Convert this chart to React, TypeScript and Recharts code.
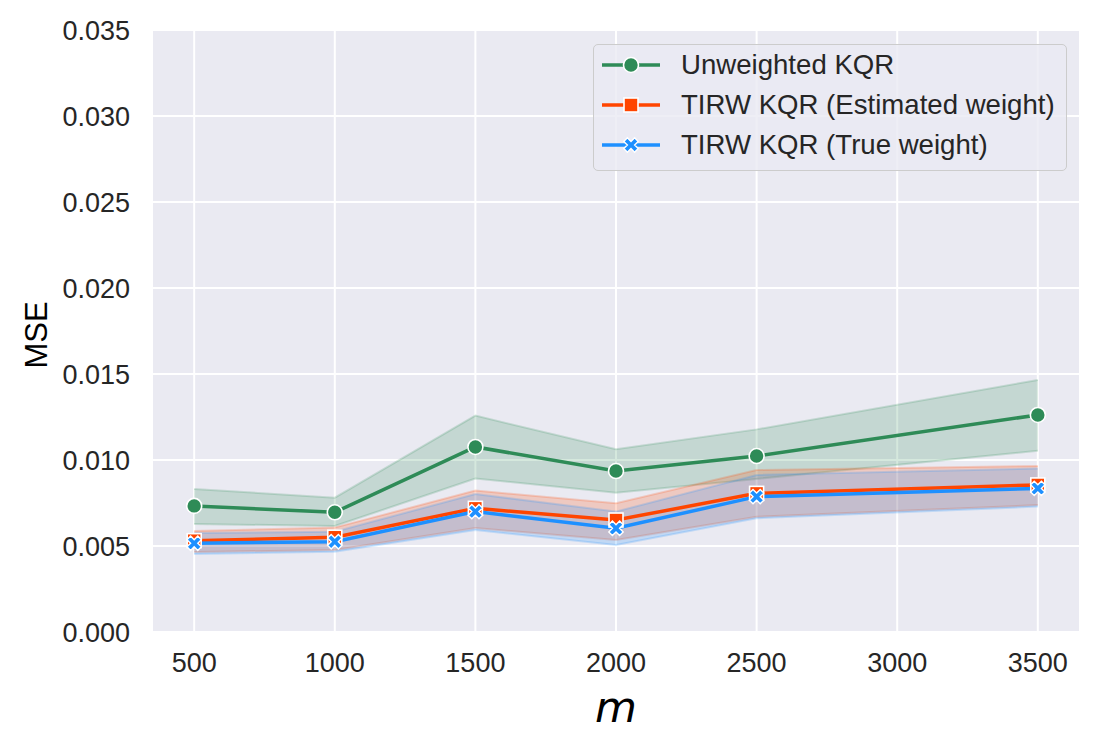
import { CartesianGrid, ComposedChart, Area, Line, Legend, XAxis, YAxis } from "recharts";

const mValues = [500, 1000, 1500, 2000, 2500, 3500];

const unweighted = [0.00733, 0.00696, 0.01076, 0.00936, 0.01023, 0.01262];
const unweightedLo = [0.00628, 0.00616, 0.00892, 0.0081, 0.0089, 0.01054];
const unweightedHi = [0.00831, 0.00781, 0.01258, 0.01062, 0.01178, 0.01465];

const estimated = [0.00531, 0.00551, 0.00719, 0.00651, 0.00806, 0.00855];
const estimatedLo = [0.00465, 0.00477, 0.00605, 0.00535, 0.0067, 0.00738];
const estimatedHi = [0.00587, 0.00607, 0.00822, 0.00748, 0.00942, 0.00965];

const trueWeight = [0.00516, 0.00525, 0.007, 0.00603, 0.00787, 0.00835];
const trueLo = [0.00453, 0.00467, 0.00593, 0.00506, 0.00661, 0.00729];
const trueHi = [0.00575, 0.00583, 0.00802, 0.007, 0.00913, 0.00951];

const xTicks = [500, 1000, 1500, 2000, 2500, 3000, 3500];
const yTicks = [0, 0.005, 0.01, 0.015, 0.02, 0.025, 0.03, 0.035];

const GREEN = "#2E8B57";
const ORANGE = "#FF4500";
const BLUE = "#1E90FF";
const FONT = "'Liberation Sans', Arial, sans-serif";
const TEXT = "#262626";

const data = mValues.map((m, i) => ({
  m,
  unweighted: unweighted[i],
  unweightedBand: [unweightedLo[i], unweightedHi[i]],
  estimated: estimated[i],
  estimatedBand: [estimatedLo[i], estimatedHi[i]],
  trueWeight: trueWeight[i],
  trueBand: [trueLo[i], trueHi[i]],
}));

function CircleMark({ cx, cy }: { cx: number; cy: number }) {
  return <circle cx={cx} cy={cy} r={7.5} fill={GREEN} stroke="#fff" strokeWidth={1.6} />;
}

function SquareMark({ cx, cy }: { cx: number; cy: number }) {
  return <rect x={cx - 7} y={cy - 7} width={14} height={14} fill={ORANGE} stroke="#fff" strokeWidth={1.6} />;
}

// filled "X" marker, same outline as matplotlib's
const xPts = [
  [-1, -2], [0, -1], [1, -2], [2, -1], [1, 0], [2, 1],
  [1, 2], [0, 1], [-1, 2], [-2, 1], [-1, 0], [-2, -1],
];
function XMark({ cx, cy }: { cx: number; cy: number }) {
  const k = 3.6;
  const d = xPts.map(([x, y], i) => `${i ? "L" : "M"}${cx + x * k},${cy + y * k}`).join("") + "Z";
  return <path d={d} fill={BLUE} stroke="#fff" strokeWidth={1.4} />;
}

const dotOf = (Mark: typeof CircleMark) => (props: any) =>
  props.cx == null ? <g key={props.index} /> : <Mark key={props.index} cx={props.cx} cy={props.cy} />;

const legendRows = [
  { label: "Unweighted KQR", color: GREEN, Mark: CircleMark },
  { label: "TIRW KQR (Estimated weight)", color: ORANGE, Mark: SquareMark },
  { label: "TIRW KQR (True weight)", color: BLUE, Mark: XMark },
];

function LegendBox() {
  return (
    <div
      style={{
        width: 474,
        height: 127,
        boxSizing: "border-box",
        background: "rgba(234,234,242,0.8)",
        border: "1.5px solid #CCCCCC",
        borderRadius: 5,
        fontFamily: FONT,
        fontSize: 27.6,
        color: TEXT,
      }}
    >
      {legendRows.map(({ label, color, Mark }, i) => (
        <div key={label} style={{ position: "absolute", left: 8, top: 1 + i * 40, height: 40, display: "flex", alignItems: "center" }}>
          <svg width={60} height={40}>
            <line x1={1} x2={59} y1={20} y2={20} stroke={color} strokeWidth={3.5} />
            <Mark cx={30} cy={20} />
          </svg>
          <span style={{ marginLeft: 20, whiteSpace: "nowrap" }}>{label}</span>
        </div>
      ))}
    </div>
  );
}

export default function App() {
  return (
    <div style={{ position: "absolute", left: 0, top: 0, background: "#fff" }}>
      <ComposedChart width={1101} height={748} data={data} margin={{ top: 30, right: 21, bottom: 0, left: 0 }}>
        <CartesianGrid stroke="#fff" strokeWidth={2} fill="#EAEAF2" fillOpacity={1} />
        <XAxis
          dataKey="m"
          type="number"
          domain={[350, 3650]}
          ticks={xTicks}
          interval={0}
          height={116}
          axisLine={false}
          tickLine={false}
          tickSize={0}
          tickMargin={21}
          tick={{ fontSize: 27, fill: TEXT, fontFamily: FONT }}
          label={{
            content: () => (
              <text x={616} y={722} textAnchor="middle" fontFamily="'DejaVu Sans', sans-serif" fontStyle="italic" fontSize={43} fill="#000">
                m
              </text>
            ),
          }}
        />
        <YAxis
          type="number"
          domain={[0, 0.035]}
          ticks={yTicks}
          interval={0}
          width={152}
          axisLine={false}
          tickLine={false}
          tickSize={0}
          tickMargin={22}
          tickFormatter={(v: number) => v.toFixed(3)}
          tick={{ fontSize: 27, fill: TEXT, fontFamily: FONT }}
          label={{
            content: () => (
              <text x={47} y={335} transform="rotate(-90 47 335)" textAnchor="middle" fontFamily={FONT} fontSize={31} fill="#000">
                MSE
              </text>
            ),
          }}
        />
        <Area type="linear" dataKey="unweightedBand" stroke={GREEN} strokeOpacity={0.2} strokeWidth={2} fill={GREEN} fillOpacity={0.2} dot={false} activeDot={false} isAnimationActive={false} />
        <Line type="linear" dataKey="unweighted" stroke={GREEN} strokeWidth={3.5} dot={dotOf(CircleMark)} activeDot={false} isAnimationActive={false} />
        <Area type="linear" dataKey="estimatedBand" stroke={ORANGE} strokeOpacity={0.2} strokeWidth={2} fill={ORANGE} fillOpacity={0.2} dot={false} activeDot={false} isAnimationActive={false} />
        <Line type="linear" dataKey="estimated" stroke={ORANGE} strokeWidth={3.5} dot={dotOf(SquareMark)} activeDot={false} isAnimationActive={false} />
        <Area type="linear" dataKey="trueBand" stroke={BLUE} strokeOpacity={0.2} strokeWidth={2} fill={BLUE} fillOpacity={0.2} dot={false} activeDot={false} isAnimationActive={false} />
        <Line type="linear" dataKey="trueWeight" stroke={BLUE} strokeWidth={3.5} dot={dotOf(XMark)} activeDot={false} isAnimationActive={false} />
        <Legend
          layout="vertical"
          align="center"
          verticalAlign="middle"
          wrapperStyle={{ left: 593, top: 44, width: 474, height: 127 }}
          content={() => <LegendBox />}
        />
      </ComposedChart>
    </div>
  );
}
